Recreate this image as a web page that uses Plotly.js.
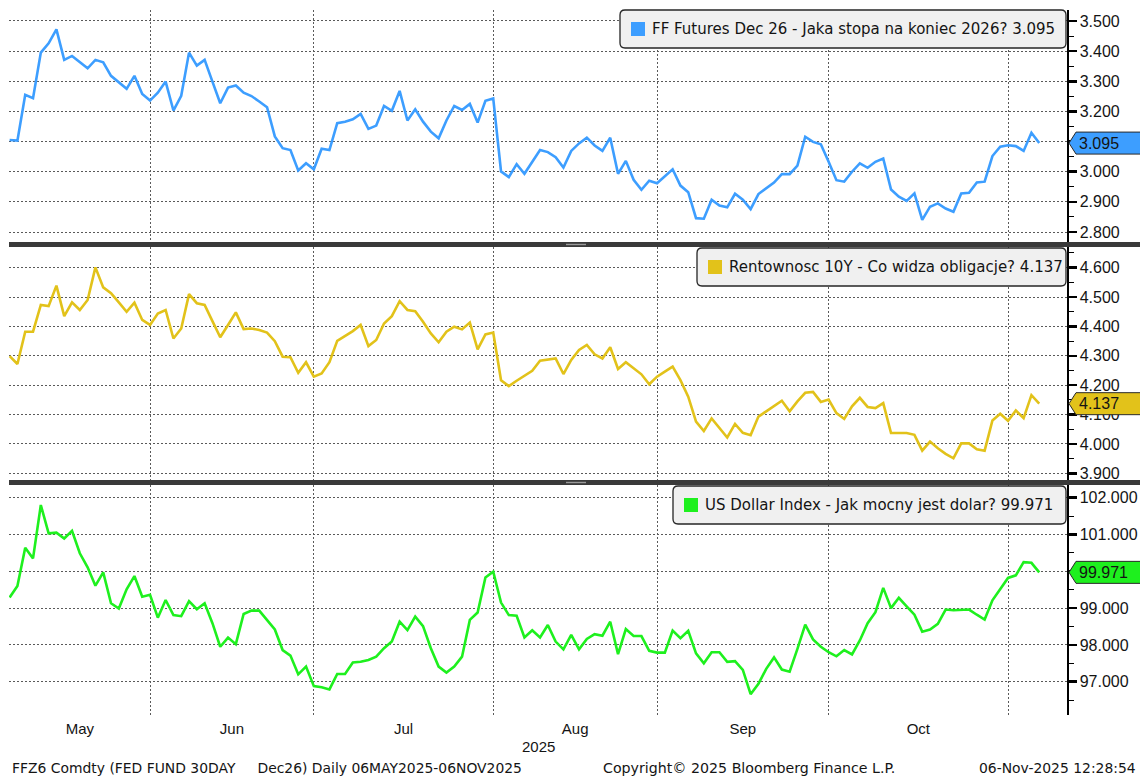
<!DOCTYPE html>
<html>
<head>
<meta charset="utf-8">
<script src="https://cdn.plot.ly/plotly-3.0.1.min.js"></script>
<style>html,body{margin:0;padding:0;background:#fff;}#chart{width:1140px;height:778px;}</style>
</head>
<body>
<div id="chart"></div>
<script>
// ---------- DATA ----------
const seriesNames = [
  'FF Futures Dec 26 - Jaka stopa na koniec 2026?',
  'Rentownosc 10Y - Co widza obligacje?',
  'US Dollar Index - Jak mocny jest dolar?'
];
const seriesColors = ['#3d9eff', '#e2c21a', '#1ef01e'];
const monthLabels = ['May', 'Jun', 'Jul', 'Aug', 'Sep', 'Oct'];
const yearLabel = '2025';

const ffFutures = [
  3.105,3.103,3.255,3.244,3.395,3.426,3.472,3.371,3.384,3.365,3.343,3.371,3.363,3.318,3.297,3.275,3.318,3.258,3.236,
  3.262,3.299,3.203,3.252,3.395,3.352,3.371,3.299,3.227,3.279,3.286,3.262,3.251,3.233,3.214,3.117,3.078,3.072,3.004,3.028,3.008,
  3.076,3.072,3.161,3.166,3.174,3.192,3.142,3.153,3.218,3.202,3.268,3.170,3.207,3.166,3.133,3.111,3.170,3.218,3.205,3.225,3.163,3.235,3.243,
  3.001,2.982,3.025,2.993,3.031,3.072,3.065,3.048,3.014,3.069,3.094,3.113,3.087,3.069,3.113,2.993,3.036,2.973,2.940,2.970,2.962,
  2.984,3.008,2.954,2.932,2.846,2.844,2.907,2.888,2.882,2.927,2.907,2.876,2.926,2.945,2.964,2.992,2.992,3.020,3.116,3.099,3.091,3.033,
  2.972,2.967,3.000,3.028,3.013,3.033,3.044,2.941,2.917,2.903,2.928,2.840,2.884,2.895,2.878,2.867,2.928,2.930,2.964,2.967,3.052,3.083,3.088,
  3.085,3.069,3.129,3.095
];
const yield10y = [
  4.299,4.272,4.382,4.382,4.473,4.469,4.539,4.435,4.482,4.456,4.490,4.601,4.533,4.513,4.482,4.450,4.481,4.422,4.405,
  4.444,4.456,4.359,4.393,4.510,4.479,4.473,4.418,4.363,4.405,4.448,4.391,4.393,4.388,4.379,4.350,4.297,4.295,4.242,4.278,4.229,
  4.240,4.278,4.351,4.367,4.384,4.405,4.333,4.354,4.410,4.435,4.486,4.456,4.452,4.416,4.376,4.346,4.382,4.399,4.390,4.413,4.322,4.373,4.379,
  4.217,4.197,4.215,4.231,4.249,4.283,4.286,4.291,4.238,4.286,4.320,4.337,4.305,4.291,4.329,4.255,4.278,4.257,4.237,4.203,4.229,
  4.246,4.263,4.217,4.161,4.076,4.044,4.087,4.053,4.022,4.068,4.038,4.030,4.093,4.111,4.130,4.147,4.111,4.145,4.174,4.177,4.143,4.151,
  4.105,4.085,4.128,4.157,4.126,4.122,4.139,4.037,4.037,4.037,4.031,3.977,4.008,3.985,3.966,3.951,4.002,4.002,3.982,3.977,4.080,4.103,4.079,
  4.114,4.088,4.166,4.137
];
const dollarIndex = [
  99.29,99.60,100.64,100.35,101.80,101.03,101.05,100.89,101.10,100.49,100.11,99.61,99.97,99.13,98.99,99.51,99.87,99.31,99.36,
  98.74,99.22,98.81,98.78,99.19,98.97,99.13,98.59,97.95,98.20,98.02,98.84,98.93,98.93,98.69,98.42,97.86,97.71,97.20,97.41,96.88,
  96.85,96.79,97.21,97.21,97.52,97.54,97.59,97.68,97.91,98.09,98.63,98.40,98.77,98.51,97.91,97.41,97.25,97.41,97.68,98.68,98.88,99.83,99.99,
  99.15,98.81,98.79,98.20,98.40,98.20,98.54,98.09,97.88,98.27,97.88,98.16,98.29,98.25,98.63,97.75,98.43,98.24,98.24,97.84,97.79,
  97.79,98.39,98.18,98.38,97.77,97.50,97.80,97.80,97.54,97.56,97.32,96.66,96.94,97.35,97.66,97.33,97.27,97.89,98.55,98.15,97.95,97.80,
  97.69,97.86,97.74,98.12,98.59,98.89,99.55,99.00,99.28,99.05,98.82,98.36,98.42,98.57,98.96,98.94,98.96,98.96,98.82,98.69,99.21,99.53,99.82,
  99.89,100.25,100.23,99.971
];
const footerLeft = 'FFZ6 Comdty (FED FUND 30DAY&nbsp;&nbsp;&nbsp;&nbsp;&nbsp;Dec26) Daily 06MAY2025-06NOV2025';
const footerMid = 'Copyright\u00A9 2025 Bloomberg Finance L.P.';
const footerRight = '06-Nov-2025 12:28:54';

// trading-day calendar (weekdays) 06 May 2025 - 06 Nov 2025
const dates = [];
for (let t = Date.UTC(2025, 4, 6); t <= Date.UTC(2025, 10, 6); t += 86400000) {
  const d = new Date(t);
  const wd = d.getUTCDay();
  if (wd !== 0 && wd !== 6) dates.push(d.toISOString().slice(0, 10));
}
const idx = dates.map((_, i) => i);

// month boundaries (last trading day of each month) and month label centres
const monthEnds = [];
for (let i = 0; i < dates.length - 1; i++) {
  if (dates[i].slice(5, 7) !== dates[i + 1].slice(5, 7)) monthEnds.push(i);
}
const labelPos = monthLabels.map((_, k) => ((k === 0 ? 0 : monthEnds[k - 1]) + monthEnds[k]) / 2);

// ---------- GEOMETRY HELPERS ----------
const W = 1140, H = 778;
const M = {l: 9, r: 73, t: 10, b: 63};
const PW = W - M.l - M.r, PH = H - M.t - M.b;
const px = v => (v - M.l) / PW;           // pixel x -> paper
const py = v => (H - M.b - v) / PH;       // pixel y -> paper
const FONT = 'Liberation Sans, Arial, sans-serif';
const FONT2 = 'DejaVu Sans, Verdana, sans-serif';
const TXT = '#141414';
const GRID = '#5a5a5a';

const values = [ffFutures, yield10y, dollarIndex];
const yRefs = ['y', 'y2', 'y3'];
const traces = values.map((v, k) => ({
  type: 'scatter', mode: 'lines', x: idx, y: v, customdata: dates,
  yaxis: yRefs[k], name: seriesNames[k],
  line: {color: seriesColors[k], width: 2.6},
  hovertemplate: '%{customdata}: %{y}<extra></extra>'
}));

// panel pixel boundaries
const panels = [[10, 242], [247, 480], [485, 715]];
const dom = panels.map(p => [py(p[1]), py(p[0])]);

function yAxis(k, range, dtick, minorDtick, pxPerUnit) {
  const last = values[k][values[k].length - 1];
  const tv = [], tt = [];
  for (let v = Math.ceil(range[0] / dtick) * dtick; v <= range[1] + 1e-9; v += dtick) {
    const r = Math.round(v / dtick) * dtick;
    tv.push(r);
    // labels fully hidden behind the last-value tag are left blank
    tt.push(Math.abs(r - last) * pxPerUnit < 6 ? '' : r.toFixed(3));
  }
  return {
    domain: dom[k], range: range, side: 'right', anchor: 'x',
    tickmode: 'array', tickvals: tv, ticktext: tt,
    showgrid: true, gridcolor: GRID, griddash: '2px,2px', gridwidth: 1,
    zeroline: false, showline: true, linecolor: '#000', linewidth: 1.5,
    ticks: 'outside', ticklen: 8, tickwidth: 2.5, tickcolor: '#000',
    minor: {dtick: minorDtick, tick0: 0, ticks: 'outside', ticklen: 5, tickwidth: 1, tickcolor: '#000', showgrid: false},
    tickfont: {family: FONT, size: 16, color: TXT}, fixedrange: true
  };
}

const shapes = [];
const annotations = [];

// separator bands
[[242, 247], [480, 485]].forEach(b => {
  shapes.push({type: 'rect', xref: 'paper', yref: 'paper', x0: 0, x1: px(1140), y0: py(b[1]), y1: py(b[0]),
    fillcolor: '#3a3a3a', line: {width: 0}, layer: 'above'});
  shapes.push({type: 'rect', xref: 'paper', yref: 'paper', x0: px(566), x1: px(586), y0: py(b[0] + 3.2), y1: py(b[0] + 1.8),
    fillcolor: '#9a9a9a', line: {width: 0}, layer: 'above'});
});

// legend boxes
const legendBoxes = [
  {x0: 620, x1: 1066, y0: 10, y1: 48, sq: 631, tx: 650},
  {x0: 697, x1: 1066, y0: 248, y1: 286, sq: 708, tx: 727},
  {x0: 673, x1: 1066, y0: 486, y1: 524, sq: 684, tx: 703}
];
function roundRect(x0, x1, yTop, yBot, r) {
  const X0 = px(x0), X1 = px(x1), YT = py(yTop), YB = py(yBot);
  const rx = r / PW, ry = r / PH;
  return `M ${X0 + rx},${YT} L ${X1 - rx},${YT} Q ${X1},${YT} ${X1},${YT - ry} L ${X1},${YB + ry} Q ${X1},${YB} ${X1 - rx},${YB} ` +
         `L ${X0 + rx},${YB} Q ${X0},${YB} ${X0},${YB + ry} L ${X0},${YT - ry} Q ${X0},${YT} ${X0 + rx},${YT} Z`;
}
legendBoxes.forEach((b, k) => {
  shapes.push({type: 'path', xref: 'paper', yref: 'paper', path: roundRect(b.x0, b.x1, b.y0, b.y1, 5),
    fillcolor: '#f0f0f0', line: {color: '#262626', width: 1.3}, layer: 'above'});
  const cy = (b.y0 + b.y1) / 2;
  shapes.push({type: 'rect', xref: 'paper', yref: 'paper', x0: px(b.sq), x1: px(b.sq + 14), y0: py(cy + 7), y1: py(cy - 7),
    fillcolor: seriesColors[k], line: {width: 0}, layer: 'above'});
  const v = values[k][values[k].length - 1];
  annotations.push({xref: 'paper', yref: 'paper', x: px(b.tx), y: py(cy), xanchor: 'left', yanchor: 'middle',
    text: seriesNames[k] + ' ' + v.toFixed(3), showarrow: false, font: {family: FONT2, size: 15, color: TXT}});
});

// last-value tags on the right axis
values.forEach((v, k) => {
  const last = v[v.length - 1];
  shapes.push({type: 'path', xref: 'paper', yref: yRefs[k], xsizemode: 'pixel', ysizemode: 'pixel',
    xanchor: 1, yanchor: last, path: 'M 2,0 L 9,11 L 76,11 L 76,-11 L 9,-11 Z',
    fillcolor: seriesColors[k], line: {color: '#2a2a2a', width: 1}, layer: 'above'});
  annotations.push({xref: 'paper', yref: yRefs[k], x: 1, y: last, xshift: 10, xanchor: 'left', yanchor: 'middle',
    text: last.toFixed(3), showarrow: false, font: {family: FONT, size: 16, color: TXT}});
});

// year label and footer
annotations.push({xref: 'paper', yref: 'paper', x: px(538), y: py(746), xanchor: 'center', yanchor: 'middle',
  text: yearLabel, showarrow: false, font: {family: FONT, size: 15, color: TXT}});
annotations.push({xref: 'paper', yref: 'paper', x: px(10), y: py(768), xanchor: 'left', yanchor: 'middle',
  text: footerLeft, showarrow: false, font: {family: FONT2, size: 13.9, color: TXT}});
annotations.push({xref: 'paper', yref: 'paper', x: px(601), y: py(768), xanchor: 'left', yanchor: 'middle',
  text: footerMid, showarrow: false, font: {family: FONT2, size: 14.2, color: TXT}});
annotations.push({xref: 'paper', yref: 'paper', x: px(1138), y: py(768), xanchor: 'right', yanchor: 'middle',
  text: footerRight, showarrow: false, font: {family: FONT2, size: 13.9, color: TXT}});

const layout = {
  width: W, height: H, margin: M, showlegend: false,
  paper_bgcolor: '#ffffff', plot_bgcolor: '#ffffff',
  xaxis: {
    domain: [0, 1], anchor: 'y3', range: [-0.08, 135.56],
    tickmode: 'array', tickvals: labelPos, ticktext: monthLabels,
    showgrid: false, zeroline: false, showline: false, ticks: '', ticklabelstandoff: 3,
    tickfont: {family: FONT, size: 15, color: TXT},
    minor: {tickmode: 'array', tickvals: monthEnds, showgrid: true, gridcolor: GRID, griddash: '2px,2px', gridwidth: 1, ticks: ''},
    fixedrange: true
  },
  yaxis: yAxis(0, [2.7669, 3.5364], 0.1, 0.05, 302),
  yaxis2: yAxis(1, [3.8772, 4.6704], 0.1, 0.05, 294),
  yaxis3: yAxis(2, [96.095, 102.345], 1, 0.5, 36.8),
  shapes: shapes,
  annotations: annotations
};

Plotly.newPlot('chart', traces, layout, {displayModeBar: false, staticPlot: true});
</script>
</body>
</html>
